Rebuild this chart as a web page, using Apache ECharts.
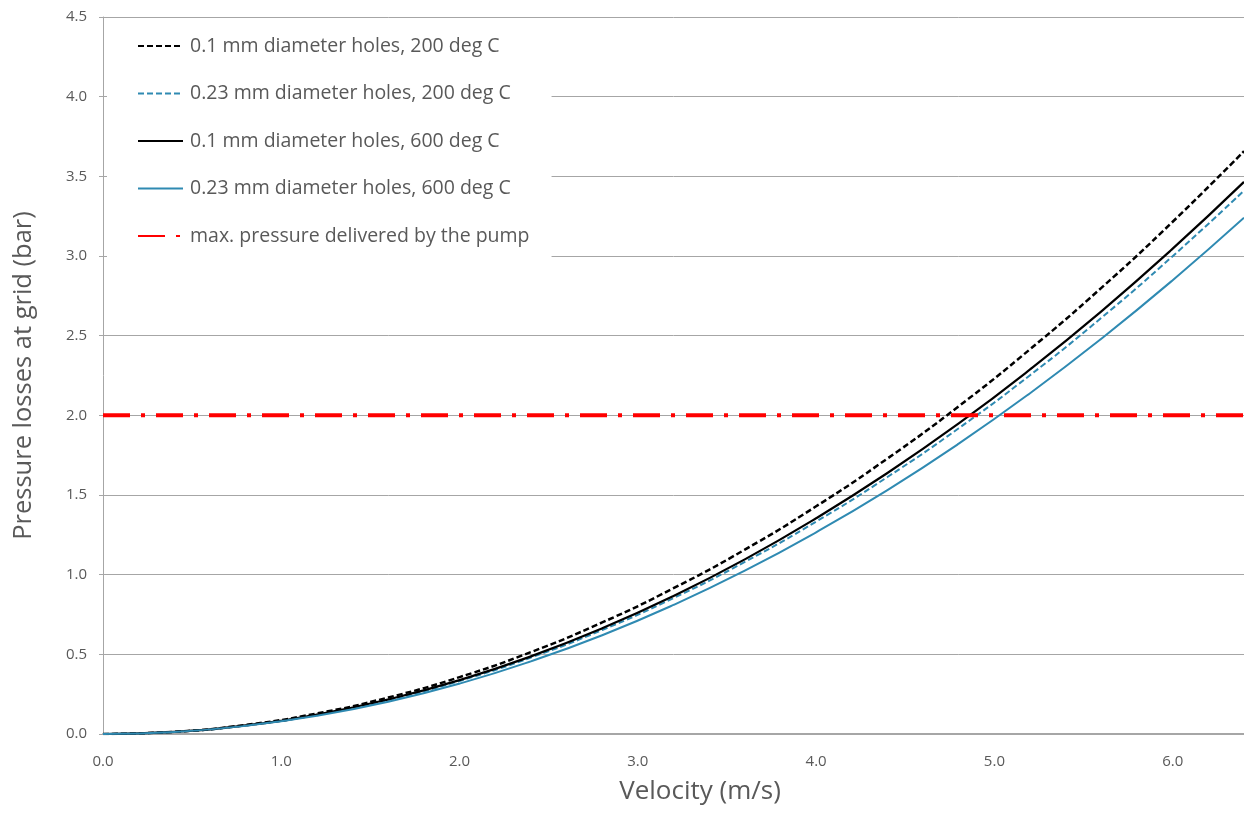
<!DOCTYPE html>
<html>
<head>
<meta charset="utf-8">
<script src="https://cdn.jsdelivr.net/npm/echarts@6/dist/echarts.min.js"></script>
<style>
html,body{margin:0;padding:0;background:#fff;}
#chart{width:1244px;height:813px;}
</style>
</head>
<body>
<div id="chart"></div>
<script>
// Velocity (m/s)
const velocity = [0, 0.4, 0.8, 1.2, 1.6, 2.0, 2.4, 2.8, 3.2, 3.6, 4.0, 4.4, 4.8, 5.2, 5.6, 6.0, 6.4];
// Pressure losses (bar)
const p01_200  = [0, 0.014, 0.057, 0.129, 0.229, 0.357, 0.514, 0.700, 0.915, 1.157, 1.429, 1.729, 2.057, 2.415, 2.800, 3.215, 3.658];
const p023_200 = [0, 0.013, 0.053, 0.120, 0.213, 0.333, 0.480, 0.653, 0.853, 1.080, 1.333, 1.613, 1.919, 2.252, 2.612, 2.999, 3.410];
const p01_600  = [0, 0.0135, 0.054, 0.122, 0.217, 0.338, 0.487, 0.663, 0.866, 1.096, 1.354, 1.638, 1.949, 2.288, 2.653, 3.046, 3.465];
const p023_600 = [0, 0.0127, 0.051, 0.114, 0.202, 0.316, 0.456, 0.620, 0.810, 1.025, 1.266, 1.531, 1.822, 2.139, 2.481, 2.848, 3.240];
const pumpX = [0, 6.4];
const pumpY = [2.0, 2.0];
const names = [
  '0.1 mm diameter holes, 200 deg C',
  '0.23 mm diameter holes, 200 deg C',
  '0.1 mm diameter holes, 600 deg C',
  '0.23 mm diameter holes, 600 deg C',
  'max. pressure delivered by the pump'
];
const zip = (xs, ys) => xs.map((x, i) => [x, ys[i]]);

const FONT = '"Open Sans", "Liberation Sans", sans-serif';
const GREY = '#595959';
const BLUE = '#2f8ab2';

const chart = echarts.init(document.getElementById('chart'), null, {renderer: 'canvas'});
chart.setOption({
  animation: false,
  backgroundColor: '#fff',
  grid: {left: 103, right: 0, top: 17, bottom: 79, containLabel: false, outerBoundsMode: 'none'},
  legend: {
    orient: 'vertical',
    left: 107,
    top: 22,
    padding: [14, 22, 16, 30],
    backgroundColor: '#fff',
    itemWidth: 45,
    itemHeight: 14,
    itemGap: 27.5,
    data: names,
    itemStyle: {opacity: 0},
    textStyle: {fontFamily: FONT, fontSize: 19.5, lineHeight: 20, color: GREY, padding: [0, 0, 0, 2]}
  },
  xAxis: {
    type: 'value',
    min: 0, max: 6.4, interval: 1,
    name: 'Velocity (m/s)',
    nameLocation: 'middle',
    nameGap: 45,
    nameTextStyle: {fontFamily: FONT, fontSize: 26, color: GREY, padding: [0, 0, 0, 53]},
    axisLine: {show: true, lineStyle: {color: '#a6a6a6', width: 2}},
    axisTick: {show: false},
    splitLine: {show: false},
    axisLabel: {fontFamily: FONT, fontSize: 15, color: GREY, margin: 20, showMaxLabel: false,
      formatter: v => v.toFixed(1)}
  },
  yAxis: {
    type: 'value',
    min: 0, max: 4.5, interval: 0.5,
    name: 'Pressure losses at grid (bar)',
    nameLocation: 'middle',
    nameGap: 66,
    nameTextStyle: {fontFamily: FONT, fontSize: 25.5, color: GREY},
    axisLine: {show: true, lineStyle: {color: '#a6a6a6', width: 1}},
    axisTick: {show: true, length: 4, lineStyle: {color: '#a6a6a6'}},
    splitLine: {show: true, lineStyle: {color: '#a6a6a6', width: 1}},
    axisLabel: {fontFamily: FONT, fontSize: 15, color: GREY, margin: 16,
      formatter: v => v.toFixed(1)}
  },
  series: [
    {name: names[0], type: 'line', smooth: true, symbol: 'none', data: zip(velocity, p01_200),
     lineStyle: {color: '#000', width: 2.5, type: [6, 3]}, itemStyle: {color: '#000'}},
    {name: names[1], type: 'line', smooth: true, symbol: 'none', data: zip(velocity, p023_200),
     lineStyle: {color: BLUE, width: 2, type: [6, 3]}, itemStyle: {color: BLUE}},
    {name: names[2], type: 'line', smooth: true, symbol: 'none', data: zip(velocity, p01_600),
     lineStyle: {color: '#000', width: 2.2}, itemStyle: {color: '#000'}},
    {name: names[3], type: 'line', smooth: true, symbol: 'none', data: zip(velocity, p023_600),
     lineStyle: {color: BLUE, width: 2}, itemStyle: {color: BLUE}},
    {name: names[4], type: 'line', symbol: 'none', data: zip(pumpX, pumpY), z: 5,
     lineStyle: {color: '#ff0000', width: 4, type: [27, 11, 4, 11]}, itemStyle: {color: '#ff0000'}}
  ]
});
</script>
</body>
</html>
